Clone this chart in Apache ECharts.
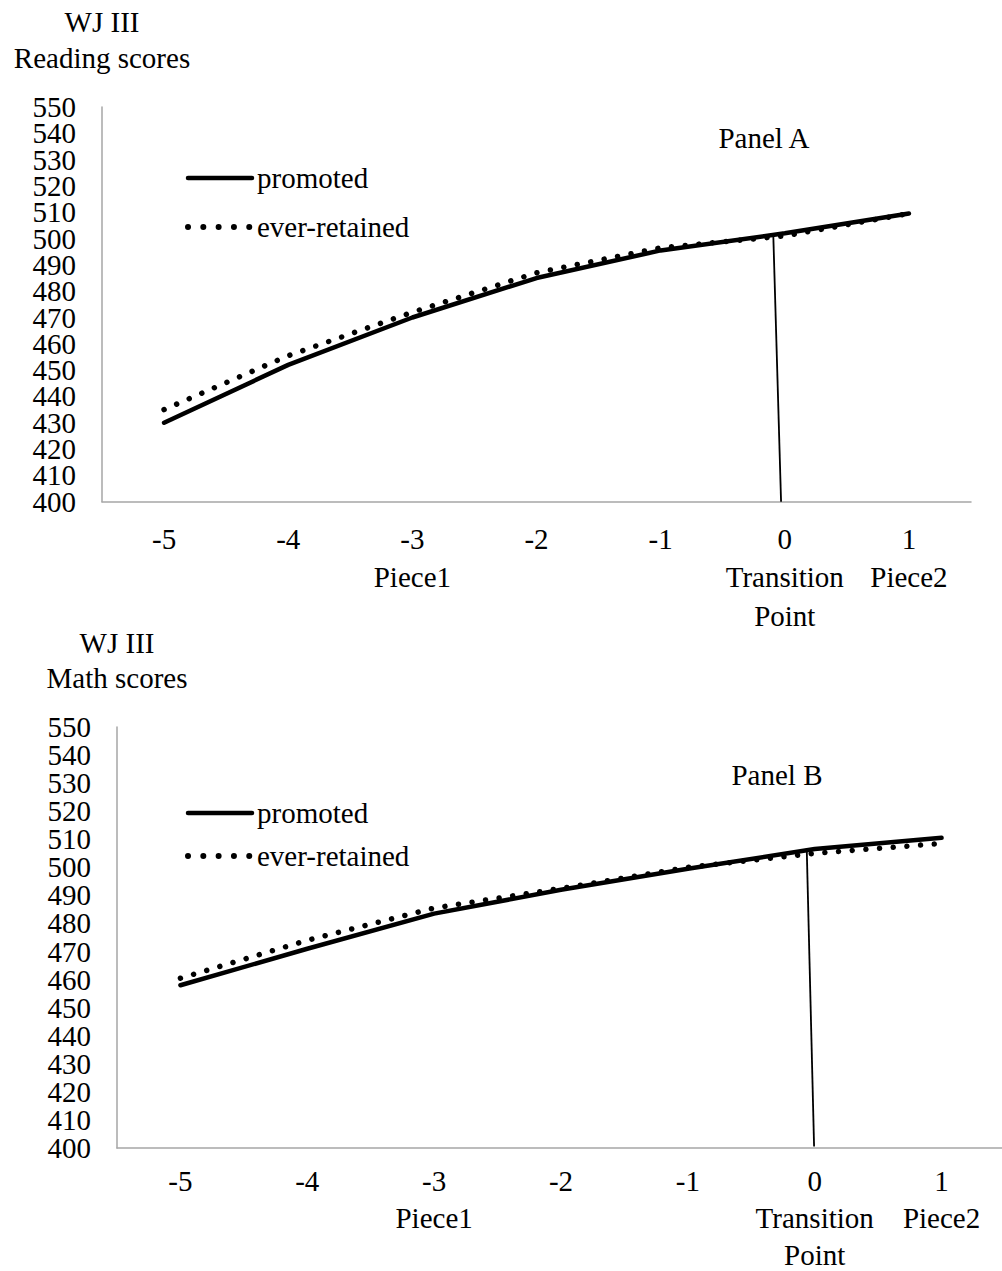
<!DOCTYPE html>
<html>
<head>
<meta charset="utf-8">
<script src="https://cdn.jsdelivr.net/npm/echarts@6/dist/echarts.min.js"></script>
<style>
html,body{margin:0;padding:0;background:#fff;}
#chart{width:1002px;height:1271px;}
</style>
</head>
<body>
<div id="chart"></div>
<script>
// ---- data ----
const xTicks = ['-5', '-4', '-3', '-2', '-1', '0', '1'];
const xSubLabels = ['', '', 'Piece1', '', '', 'Transition\nPoint', 'Piece2'];
const yTicks = [400, 410, 420, 430, 440, 450, 460, 470, 480, 490, 500, 510, 520, 530, 540, 550];
const seriesNames = ['promoted', 'ever-retained'];

const readingPromoted = [430, 452, 470, 485, 495.5, 502, 509.5];
const readingRetained = [435, 455.5, 472, 487, 496.5, 501, 509.5];
const mathPromoted = [458, 471, 483.5, 492, 499.5, 506.5, 510.5];
const mathRetained = [460.5, 474, 485.5, 492.5, 500, 505, 508.5];

// transition marker lines: [x position on index scale relative to 0, score]
const readingTransition = [[-0.093, 502], [-0.03, 400]];
const mathTransition = [[-0.063, 506.8], [-0.005, 400.5]];

const panelTitles = ['Panel A', 'Panel B'];
const yTitles = [['WJ III', 'Reading scores'], ['WJ III', 'Math scores']];

// ---- chart ----
const FONT = '"Liberation Serif", "Times New Roman", serif';
const FS = 29;
const categories = xTicks.map((t, i) => xSubLabels[i] ? t + '\n' + xSubLabels[i] : t);
const evenTicks = yTicks.filter((v, i) => i % 2 === 0);
const oddTicks = yTicks.filter((v, i) => i % 2 === 1);

const grids = [
  { left: 102, top: 107, width: 869, height: 394.7, containLabel: false, outerBoundsMode: 'none' },
  { left: 117, top: 727, width: 888, height: 421, containLabel: false, outerBoundsMode: 'none' }
];

function catAxis(gi, margin, lh) {
  return {
    type: 'category', gridIndex: gi, data: categories, boundaryGap: true,
    axisLine: { onZero: false, lineStyle: { color: '#a6a6a6', width: 1.5 } },
    axisTick: { show: false },
    axisLabel: { color: '#000', fontFamily: FONT, fontSize: FS, lineHeight: lh, margin: margin, interval: 0 },
    splitLine: { show: false }
  };
}
function hiddenValX(gi) {
  return { type: 'value', gridIndex: gi, min: -5.5, max: 1.5, show: false,
    axisLine: { show: false, onZero: false }, splitLine: { show: false } };
}
// two overlaid left axes: one labels the even ticks, the other the odd ticks
function yAxis(gi, margin, shown, isMain) {
  return {
    type: 'value', gridIndex: gi, position: 'left', offset: 0,
    min: yTicks[0], max: yTicks[yTicks.length - 1], interval: 10,
    axisLine: { show: isMain, onZero: false, lineStyle: { color: '#a6a6a6', width: 1.5 } },
    axisTick: { show: false },
    splitLine: { show: false },
    axisLabel: {
      color: '#000', fontFamily: FONT, fontSize: FS, lineHeight: 24, margin: margin,
      showMinLabel: isMain, showMaxLabel: !isMain,
      formatter: v => (shown.indexOf(v) >= 0 ? String(v) : '')
    }
  };
}

const solidStyle = { color: '#000', width: 4.5, type: 'solid', cap: 'round' };
const dotStyle = { color: '#000', width: 5.5, type: [0.01, 13.7], cap: 'round' };
const legendDotStyle = { color: '#000', width: 6, type: [0.01, 15.3], cap: 'round' };

function lineSeries(name, data, xi, yi, style, z) {
  return {
    name: name, type: 'line', xAxisIndex: xi, yAxisIndex: yi, data: data,
    symbol: 'none', lineStyle: style, itemStyle: { color: '#000' }, z: z, animation: false,
    emphasis: { disabled: true }
  };
}
function transitionSeries(data, xi, yi) {
  return {
    type: 'line', xAxisIndex: xi, yAxisIndex: yi, data: data, symbol: 'none',
    lineStyle: { color: '#000', width: 1.8 }, z: 1, animation: false, silent: true
  };
}

const graphics = [];
const titleCenters = [[102, 22, 58], [117, 643, 678]];
yTitles.forEach((lines, p) => {
  lines.forEach((txt, k) => {
    graphics.push({
      type: 'text', x: titleCenters[p][0], y: titleCenters[p][1 + k],
      style: { text: txt, font: FS + 'px ' + FONT, fill: '#000', textAlign: 'center', textVerticalAlign: 'middle' }
    });
  });
});
const panelPos = [[764, 138], [777, 775]];
panelTitles.forEach((t, p) => {
  graphics.push({
    type: 'text', x: panelPos[p][0], y: panelPos[p][1],
    style: { text: t, font: FS + 'px ' + FONT, fill: '#000', textAlign: 'center', textVerticalAlign: 'middle' }
  });
});

function legend(top, gap) {
  return {
    data: [
      { name: seriesNames[0], lineStyle: { color: '#000', width: 4.5, type: 'solid', cap: 'round' },
        itemStyle: { opacity: 0, color: 'transparent', borderWidth: 0 } },
      { name: seriesNames[1], lineStyle: legendDotStyle,
        itemStyle: { opacity: 0, color: 'transparent', borderWidth: 0 } }
    ],
    orient: 'vertical', left: 185, top: top, padding: 0,
    itemWidth: 64, itemHeight: 14, itemGap: gap,
    selectedMode: false,
    textStyle: { color: '#000', fontFamily: FONT, fontSize: FS, lineHeight: 30, padding: [0, 0, 0, 0] }
  };
}

const option = {
  backgroundColor: '#fff',
  animation: false,
  grid: grids,
  legend: [legend(163, 19), legend(798, 13)],
  xAxis: [catAxis(0, 18, 38.5), catAxis(1, 14, 37), hiddenValX(0), hiddenValX(1)],
  yAxis: [
    yAxis(0, 26, evenTicks, true), yAxis(1, 26, evenTicks, true),
    yAxis(0, 26, oddTicks, false), yAxis(1, 26, oddTicks, false)
  ],
  graphic: graphics,
  series: [
    lineSeries('ever-retained', readingRetained, 0, 0, dotStyle, 3),
    lineSeries('promoted', readingPromoted, 0, 0, solidStyle, 4),
    transitionSeries(readingTransition, 2, 0),
    lineSeries('ever-retained', mathRetained, 1, 1, dotStyle, 3),
    lineSeries('promoted', mathPromoted, 1, 1, solidStyle, 4),
    transitionSeries(mathTransition, 3, 1)
  ]
};

const chart = echarts.init(document.getElementById('chart'), null, { renderer: 'svg' });
chart.setOption(option);
</script>
</body>
</html>
